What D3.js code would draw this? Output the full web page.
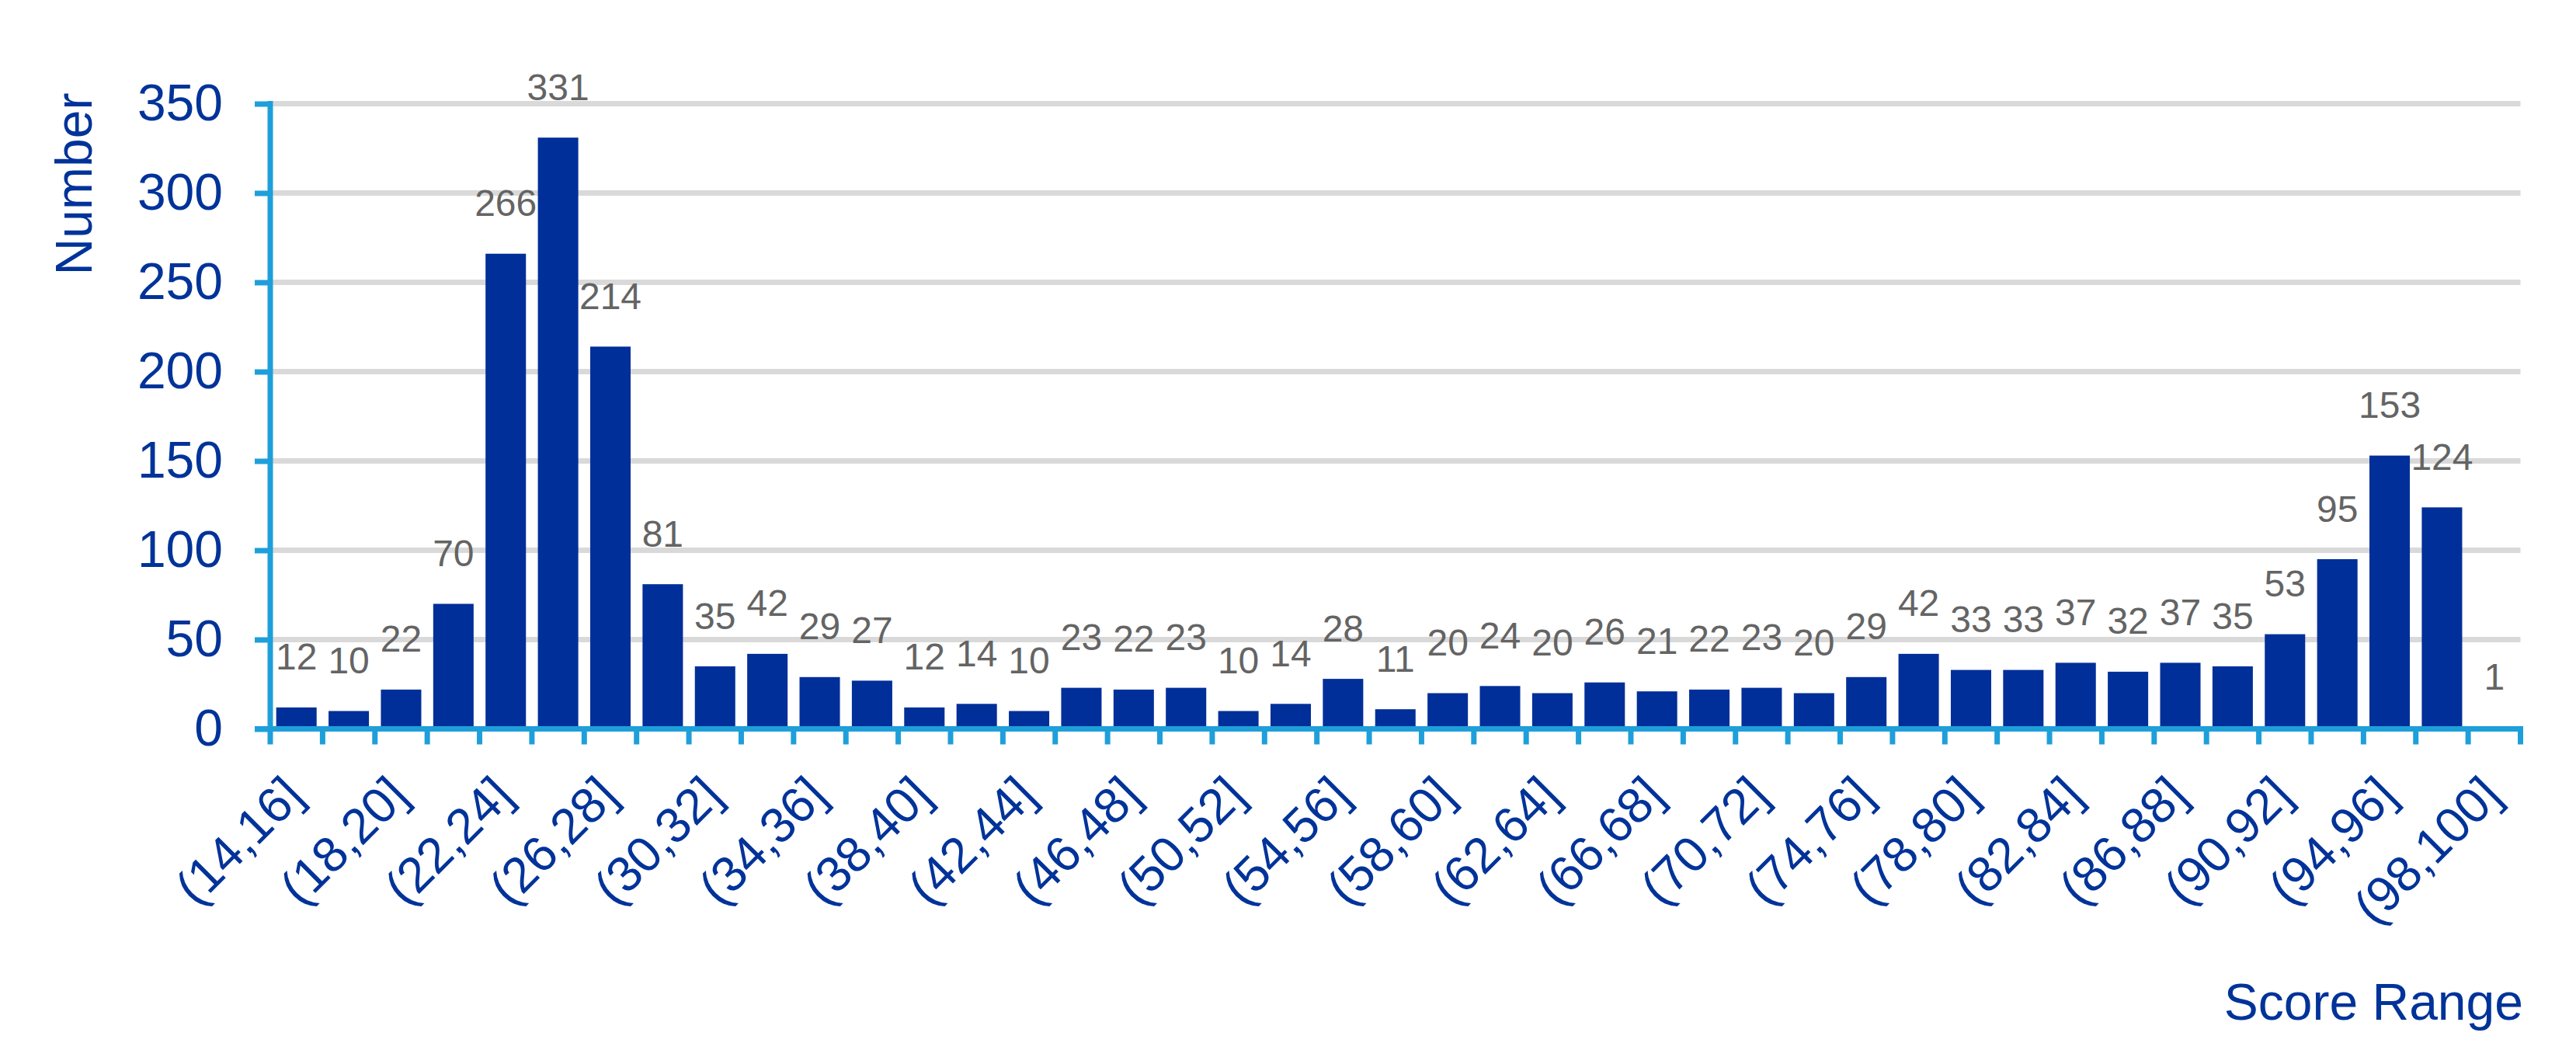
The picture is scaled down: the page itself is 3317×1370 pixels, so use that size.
<!DOCTYPE html>
<html>
<head>
<meta charset="utf-8">
<script src="https://cdn.jsdelivr.net/npm/d3@7"></script>
<style>
  html, body { margin: 0; padding: 0; background: #ffffff; }
  svg { display: block; font-family: "Liberation Sans", Arial, sans-serif; }
</style>
</head>
<body>
<svg id="chart" width="3317" height="1370"></svg>
<script>
// ---- data ----
const categories = [
  "(14,16]", "(16,18]", "(18,20]", "(20,22]", "(22,24]", "(24,26]", "(26,28]", "(28,30]",
  "(30,32]", "(32,34]", "(34,36]", "(36,38]", "(38,40]", "(40,42]", "(42,44]", "(44,46]",
  "(46,48]", "(48,50]", "(50,52]", "(52,54]", "(54,56]", "(56,58]", "(58,60]", "(60,62]",
  "(62,64]", "(64,66]", "(66,68]", "(68,70]", "(70,72]", "(72,74]", "(74,76]", "(76,78]",
  "(78,80]", "(80,82]", "(82,84]", "(84,86]", "(86,88]", "(88,90]", "(90,92]", "(92,94]",
  "(94,96]", "(96,98]", "(98,100]"
];
const counts = [
  12, 10, 22, 70, 266, 331, 214, 81, 35, 42, 29, 27, 12, 14, 10, 23,
  22, 23, 10, 14, 28, 11, 20, 24, 20, 26, 21, 22, 23, 20, 29, 42,
  33, 33, 37, 32, 37, 35, 53, 95, 153, 124, 1
];
const xTickLabels = [
  "(14,16]", "(18,20]", "(22,24]", "(26,28]", "(30,32]", "(34,36]", "(38,40]", "(42,44]",
  "(46,48]", "(50,52]", "(54,56]", "(58,60]", "(62,64]", "(66,68]", "(70,72]", "(74,76]",
  "(78,80]", "(82,84]", "(86,88]", "(90,92]", "(94,96]", "(98,100]"
];
const yTicks = [0, 50, 100, 150, 200, 250, 300, 350];
const yTitle = "Number";
const xTitle = "Score Range";

// ---- style ----
const BAR = "#002F99";
const TEXT_BLUE = "#003399";
const AXIS = "#1E9FDA";
const GRID = "#D9D9D9";
const LABEL = "#646464";
const FONT = '"Liberation Sans", Arial, sans-serif';

const svg = d3.select("#chart");

const x = d3.scaleBand().domain(categories).range([348, 3245.5]).paddingInner(0).paddingOuter(0);
const y = d3.scaleLinear().domain([0, 350]).range([938.5, 133.5]);
const step = x.step();
const barW = step * 0.772;

// gridlines
svg.append("g").selectAll("line")
  .data(yTicks.filter(d => d > 0))
  .join("line")
  .attr("x1", x.range()[0]).attr("x2", x.range()[1])
  .attr("y1", d => y(d)).attr("y2", d => y(d))
  .attr("stroke", GRID).attr("stroke-width", 7);

// bars
const data = categories.map((c, i) => ({ c, v: counts[i] }));
svg.append("g").selectAll("rect")
  .data(data)
  .join("rect")
  .attr("x", d => x(d.c) + (step - barW) / 2)
  .attr("width", barW)
  .attr("y", d => y(d.v))
  .attr("height", d => y(0) - y(d.v))
  .attr("fill", BAR);

// data labels
svg.append("g").selectAll("text")
  .data(data)
  .join("text")
  .attr("x", d => x(d.c) + step / 2)
  .attr("y", d => y(d.v) - 48.5)
  .attr("text-anchor", "middle")
  .attr("font-size", 48)
  .attr("font-family", FONT)
  .attr("fill", LABEL)
  .text(d => d.v);

// y axis
const yAxis = svg.append("g")
  .attr("transform", `translate(${x.range()[0]},0)`)
  .call(d3.axisLeft(y).tickValues(yTicks).tickSize(20).tickPadding(41).tickSizeOuter(0));
yAxis.select(".domain").attr("stroke", AXIS).attr("stroke-width", 7)
  .attr("d", `M0,${y(350) - 3.5}V${y(0) + 3.5}`);
yAxis.selectAll(".tick line").attr("stroke", AXIS).attr("stroke-width", 7);
yAxis.selectAll(".tick text")
  .attr("font-size", 66).attr("font-family", FONT).attr("fill", TEXT_BLUE);

// x axis line + boundary ticks
const xAxisG = svg.append("g");
xAxisG.append("line")
  .attr("x1", 328).attr("x2", x.range()[1] + 3.5)
  .attr("y1", y(0)).attr("y2", y(0))
  .attr("stroke", AXIS).attr("stroke-width", 7);
const boundaries = categories.map(c => x(c)).concat([x.range()[1]]);
xAxisG.selectAll("line.bt")
  .data(boundaries)
  .join("line")
  .attr("class", "bt")
  .attr("x1", d => d).attr("x2", d => d)
  .attr("y1", y(0)).attr("y2", y(0) + 20)
  .attr("stroke", AXIS).attr("stroke-width", 7);

// x tick labels (every other category)
const xAxis = svg.append("g")
  .attr("transform", `translate(0,${y(0)})`)
  .call(d3.axisBottom(x).tickValues(xTickLabels).tickSize(0).tickPadding(0));
xAxis.select(".domain").remove();
xAxis.selectAll(".tick text")
  .attr("font-size", 64).attr("font-family", FONT).attr("fill", TEXT_BLUE)
  .attr("text-anchor", "end")
  .attr("dy", null)
  .attr("y", 0)
  .attr("transform", "translate(12,89) rotate(-45)");

// titles
svg.append("text")
  .attr("transform", "translate(118,237) rotate(-90)")
  .attr("text-anchor", "middle")
  .attr("font-size", 66).attr("font-family", FONT).attr("fill", TEXT_BLUE)
  .text(yTitle);

svg.append("text")
  .attr("x", 3249).attr("y", 1313)
  .attr("text-anchor", "end")
  .attr("font-size", 66).attr("font-family", FONT).attr("fill", TEXT_BLUE)
  .text(xTitle);
</script>
</body>
</html>
